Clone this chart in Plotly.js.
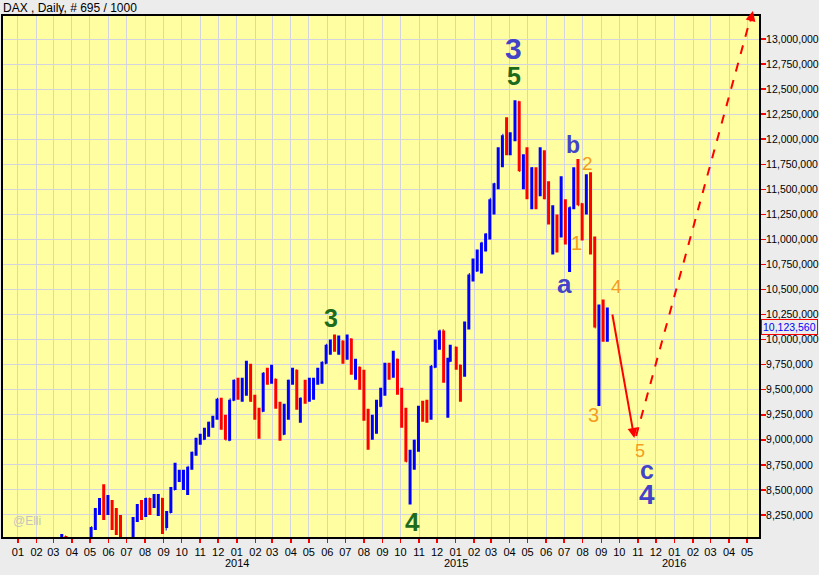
<!DOCTYPE html>
<html>
<head>
<meta charset="utf-8">
<script src="https://cdn.plot.ly/plotly-3.0.1.min.js"></script>
<style>
  html, body { margin: 0; padding: 0; background: #ececec; }
  #chart { width: 819px; height: 575px; }
</style>
</head>
<body>
<div id="chart"></div>
<script>
// Weekly OHLC of DAX (chart units), week-ending dates
const weekDates = [
  "2013-03-01","2013-03-08","2013-03-15","2013-03-22","2013-03-28","2013-04-05","2013-04-12","2013-04-19","2013-04-26",
  "2013-05-03","2013-05-10","2013-05-17","2013-05-24","2013-05-31","2013-06-07","2013-06-14","2013-06-21","2013-06-28",
  "2013-07-05","2013-07-12","2013-07-19","2013-07-26","2013-08-02","2013-08-09","2013-08-16","2013-08-23","2013-08-30",
  "2013-09-06","2013-09-13","2013-09-20","2013-09-27","2013-10-04","2013-10-11","2013-10-18","2013-10-25","2013-11-01",
  "2013-11-08","2013-11-15","2013-11-22","2013-11-29","2013-12-06","2013-12-13","2013-12-20","2013-12-27","2014-01-03",
  "2014-01-10","2014-01-17","2014-01-24","2014-01-31","2014-02-07","2014-02-14","2014-02-21","2014-02-28","2014-03-07",
  "2014-03-14","2014-03-21","2014-03-28","2014-04-04","2014-04-11","2014-04-17","2014-04-25","2014-05-02","2014-05-09",
  "2014-05-16","2014-05-23","2014-05-30","2014-06-06","2014-06-13","2014-06-20","2014-06-27","2014-07-04","2014-07-11",
  "2014-07-18","2014-07-25","2014-08-01","2014-08-08","2014-08-15","2014-08-22","2014-08-29","2014-09-05","2014-09-12",
  "2014-09-19","2014-09-26","2014-10-03","2014-10-10","2014-10-17","2014-10-24","2014-10-31","2014-11-07","2014-11-14",
  "2014-11-21","2014-11-28","2014-12-05","2014-12-12","2014-12-19","2014-12-23","2015-01-02","2015-01-09","2015-01-16",
  "2015-01-23","2015-01-30","2015-02-06","2015-02-13","2015-02-20","2015-02-27","2015-03-06","2015-03-13","2015-03-20",
  "2015-03-27","2015-04-02","2015-04-10","2015-04-17","2015-04-24","2015-04-30","2015-05-08","2015-05-15","2015-05-22",
  "2015-05-29","2015-06-05","2015-06-12","2015-06-19","2015-06-26","2015-07-03","2015-07-10","2015-07-17","2015-07-24",
  "2015-07-31","2015-08-07","2015-08-14","2015-08-21","2015-08-28","2015-09-04","2015-09-11"
];
const openVals = [
  7660000,7720000,7990000,8030000,7900000,7800000,7650000,7730000,7470000,
  7820000,8130000,8280000,8400000,8300000,8330000,8240000,8130000,7780000,
  7960000,7820000,8210000,8330000,8300000,8410000,8340000,8380000,8410000,
  8110000,8280000,8510000,8660000,8600000,8620000,8730000,8870000,9000000,
  9010000,9070000,9170000,9220000,9400000,9170000,9000000,9400000,9590000,
  9440000,9480000,9740000,9380000,9300000,9290000,9660000,9650000,9600000,
  9350000,9060000,9340000,9590000,9690000,9310000,9410000,9400000,9550000,
  9580000,9630000,9770000,9940000,9990000,9900000,9980000,9820000,10000000,
  9670000,9720000,9640000,9210000,9020000,9100000,9340000,9470000,9740000,
  9690000,9800000,9490000,9200000,8790000,8850000,8990000,9330000,9290000,
  9250000,9730000,9980000,10090000,9590000,9790000,9920000,9740000,9650000,
  10170000,10640000,10690000,10840000,10960000,11050000,11400000,11550000,11900000,
  12040000,11870000,12000000,12370000,11690000,11810000,11450000,11700000,11450000,
  11860000,11410000,11190000,11190000,11040000,11300000,10880000,11320000,11670000,
  11350000,11310000,11490000,10980000,10120000,10300000,10040000
];
const highVals = [
  7760000,8010000,8060000,8040000,7960000,7880000,7860000,7750000,7890000,
  8130000,8320000,8420000,8557000,8450000,8400000,8320000,8250000,8000000,
  8000000,8230000,8360000,8400000,8420000,8420000,8460000,8460000,8420000,
  8290000,8530000,8770000,8700000,8700000,8730000,8880000,9020000,9060000,
  9120000,9180000,9240000,9410000,9420000,9250000,9400000,9600000,9620000,
  9620000,9790000,9760000,9450000,9320000,9670000,9720000,9750000,9610000,
  9380000,9360000,9600000,9720000,9700000,9420000,9600000,9620000,9620000,
  9720000,9780000,9950000,10000000,10050000,10040000,9990000,10050000,10010000,
  9810000,9730000,9700000,9310000,9250000,9400000,9520000,9770000,9770000,
  9890000,9810000,9520000,9320000,8900000,9000000,9340000,9390000,9400000,
  9740000,10000000,10090000,10090000,9820000,9950000,9930000,9750000,10180000,
  10650000,10810000,10900000,10970000,11060000,11400000,11560000,11920000,12040000,
  12220000,12070000,12390000,12380000,11850000,11920000,11720000,11720000,11920000,
  11890000,11580000,11340000,11250000,11630000,11400000,11320000,11720000,11802000,
  11360000,11650000,11670000,11030000,10350000,10400000,10320000
];
const lowVals = [
  7540000,7650000,7920000,7860000,7750000,7600000,7600000,7420000,7450000,
  7800000,8100000,8250000,8200000,8250000,8100000,8050000,7780000,7650000,
  7750000,7800000,8180000,8200000,8230000,8250000,8320000,8240000,8060000,
  8120000,8270000,8500000,8580000,8500000,8450000,8700000,8840000,8950000,
  9000000,9030000,9120000,9200000,9100000,9000000,8990000,9390000,9400000,
  9380000,9440000,9380000,9200000,9010000,9280000,9550000,9560000,9310000,
  8990000,9050000,9200000,9550000,9300000,9170000,9360000,9380000,9400000,
  9550000,9560000,9760000,9850000,9880000,9850000,9760000,9800000,9650000,
  9600000,9500000,9190000,8900000,9000000,9060000,9330000,9440000,9600000,
  9620000,9450000,9120000,8780000,8355000,8700000,8880000,9180000,9170000,
  9200000,9720000,9900000,9570000,9220000,9780000,9700000,9380000,9630000,
  10100000,10580000,10680000,10660000,10880000,11000000,11250000,11500000,11720000,
  11840000,11840000,11980000,11680000,11500000,11400000,11300000,11300000,11430000,
  11400000,11150000,10850000,10870000,11020000,10950000,10676000,11300000,11340000,
  10990000,11250000,10850000,10120000,9338000,9980000,9980000
];
const closeVals = [
  7708000,7986000,8043000,7913000,7795000,7658000,7744000,7459000,7814000,
  8122000,8278000,8398000,8305000,8348000,8254000,8127000,7789000,7959000,
  7806000,8212000,8331000,8299000,8410000,8338000,8391000,8416000,8103000,
  8275000,8509000,8675000,8665000,8622000,8725000,8869000,9001000,9010000,
  9078000,9168000,9225000,9405000,9172000,9006000,9400000,9589000,9435000,
  9473000,9742000,9392000,9306000,9290000,9662000,9656000,9692000,9350000,
  9056000,9342000,9587000,9695000,9315000,9409000,9401000,9556000,9581000,
  9630000,9768000,9943000,9987000,9912000,9987000,9815000,10009000,9666000,
  9720000,9644000,9210000,9009000,9092000,9339000,9470000,9747000,9691000,
  9799000,9490000,9195000,8788000,8850000,8987000,9326000,9291000,9252000,
  9732000,9980000,10087000,9594000,9786000,9922000,9764000,9648000,10167000,
  10649000,10694000,10846000,10963000,11050000,11401000,11550000,11901000,12039000,
  11868000,12001000,12375000,11689000,11811000,11454000,11709000,11447000,11865000,
  11413000,11197000,11196000,11041000,11492000,11058000,11316000,11674000,11347000,
  11308000,11490000,10985000,10125000,10298000,10038000,10123560
];
const lastPrice = 10123560;
const lastPriceLabel = "10,123,560";
const chartTitle = "DAX , Daily, # 695 / 1000";

// Elliott wave labels
const waveLabels = [
  {t: "3", x: "2015-04-08", y: 12910000, c: "#4343c8", s: 30, b: true},
  {t: "5", x: "2015-04-08", y: 12630000, c: "#1d6b1d", s: 25, b: true},
  {t: "b", x: "2015-07-16", y: 11940000, c: "#4343c8", s: 23, b: true},
  {t: "2", x: "2015-08-09", y: 11760000, c: "#f39c1f", s: 19, b: false},
  {t: "1", x: "2015-07-22", y: 10960000, c: "#f39c1f", s: 20, b: false},
  {t: "a", x: "2015-07-01", y: 10555000, c: "#4343c8", s: 26, b: true},
  {t: "4", x: "2015-09-26", y: 10535000, c: "#f39c1f", s: 19, b: false},
  {t: "3", x: "2015-08-19", y: 9247000, c: "#f39c1f", s: 20, b: false},
  {t: "5", x: "2015-11-05", y: 8885000, c: "#f39c1f", s: 18, b: false},
  {t: "c", x: "2015-11-17", y: 8700000, c: "#4343c8", s: 25, b: true},
  {t: "4", x: "2015-11-17", y: 8450000, c: "#4343c8", s: 28, b: true},
  {t: "3", x: "2014-06-07", y: 10216000, c: "#1d6b1d", s: 25, b: true},
  {t: "4", x: "2014-10-21", y: 8180000, c: "#1d6b1d", s: 26, b: true}
];
const projSolid = {x0: "2015-09-19", y0: 10266000, x1: "2015-10-26", y1: 9018000};
const projDashed = {x0: "2015-10-29", y0: 9038000, x1: "2016-05-10", y1: 13280000};
const yearTicks = ["2014-01-01", "2015-01-01", "2016-01-01"];
const yearText = ["2014", "2015", "2016"];

const trace = {
  type: "ohlc",
  x: weekDates, open: openVals, high: highVals, low: lowVals, close: closeVals,
  increasing: {line: {color: "#0000ff", width: 3}},
  decreasing: {line: {color: "#ff0000", width: 3}},
  tickwidth: 0.4,
  hoverinfo: "skip",
  showlegend: false
};

const annotations = [];
waveLabels.forEach(w => {
  annotations.push({
    xref: "x", yref: "y", x: w.x, y: w.y, text: w.b ? "<b>" + w.t + "</b>" : w.t,
    showarrow: false, font: {family: "Arial", size: w.s, color: w.c},
    xanchor: "center", yanchor: "middle"
  });
});
yearTicks.forEach((d, i) => {
  annotations.push({
    xref: "x", yref: "paper", x: d, y: -0.05, text: yearText[i], showarrow: false,
    font: {family: "Arial", size: 11, color: "#000"}, xanchor: "center", yanchor: "middle"
  });
});
annotations.push({
  xref: "x", yref: "y", x: "2013-01-16", y: 8190000, text: "@Elli", showarrow: false,
  font: {family: "Arial", size: 12, color: "#c4c4bc"}, xanchor: "center", yanchor: "middle"
});
annotations.push({
  xref: "paper", yref: "y", x: 1, xshift: 2, y: lastPrice, text: lastPriceLabel, showarrow: false,
  font: {family: "Arial", size: 10.5, color: "#0000ff"}, xanchor: "left", yanchor: "middle",
  bordercolor: "#ff0000", borderwidth: 1, borderpad: 1, bgcolor: "#ececec"
});
annotations.push({
  xref: "x", yref: "y", axref: "x", ayref: "y",
  x: projSolid.x1, y: projSolid.y1, ax: projSolid.x0, ay: projSolid.y0,
  text: "", showarrow: true, arrowhead: 2, arrowsize: 1, arrowwidth: 2, arrowcolor: "#ff0000", standoff: 0
});
// arrowhead of the dashed projection (tip lies just above the plot frame)
annotations.push({
  xref: "paper", yref: "paper",
  x: 0.992, y: 1.0096, ax: -3, ay: 12,
  text: "", showarrow: true, arrowhead: 2, arrowsize: 1, arrowwidth: 2, arrowcolor: "#ff0000", standoff: 0
});

const layout = {
  width: 819, height: 575,
  margin: {l: 3, r: 60, t: 16, b: 38, pad: 0},
  paper_bgcolor: "#ececec",
  plot_bgcolor: "#ffffa2",
  title: {
    text: chartTitle, xref: "container", yref: "container", x: 3/819, xanchor: "left",
    y: 1 - 8/575, yanchor: "middle", font: {family: "Arial", size: 12, color: "#000"}
  },
  xaxis: {
    type: "date", range: ["2012-12-07", "2016-05-21"],
    tick0: "2013-01-01", dtick: "M1", tickformat: "%m",
    ticks: "outside", ticklen: 4, tickcolor: "#ff0000", tickwidth: 1.5,
    showgrid: true, gridcolor: "#d4d4de", gridwidth: 1,
    showline: true, linecolor: "#000", linewidth: 2, mirror: true,
    tickfont: {family: "Arial", size: 11, color: "#000"},
    rangeslider: {visible: false}, zeroline: false, fixedrange: true
  },
  yaxis: {
    side: "right", range: [8030000, 13230000],
    tick0: 8250000, dtick: 250000, tickformat: ",d",
    ticks: "outside", ticklen: 5, tickcolor: "#ff0000", tickwidth: 1.5,
    ticklabelstandoff: -2,
    showgrid: true, gridcolor: "#d4d4de", gridwidth: 1,
    showline: true, linecolor: "#000", linewidth: 2, mirror: true,
    tickfont: {family: "Arial", size: 10.5, color: "#000"},
    zeroline: false, fixedrange: true
  },
  shapes: [{
    type: "line", xref: "x", yref: "y",
    x0: projDashed.x0, y0: projDashed.y0, x1: projDashed.x1, y1: projDashed.y1,
    line: {color: "#ff0000", width: 2, dash: "dash"}
  }],
  annotations: annotations
};

Plotly.newPlot("chart", [trace], layout, {staticPlot: true, displayModeBar: false});
</script>
</body>
</html>
